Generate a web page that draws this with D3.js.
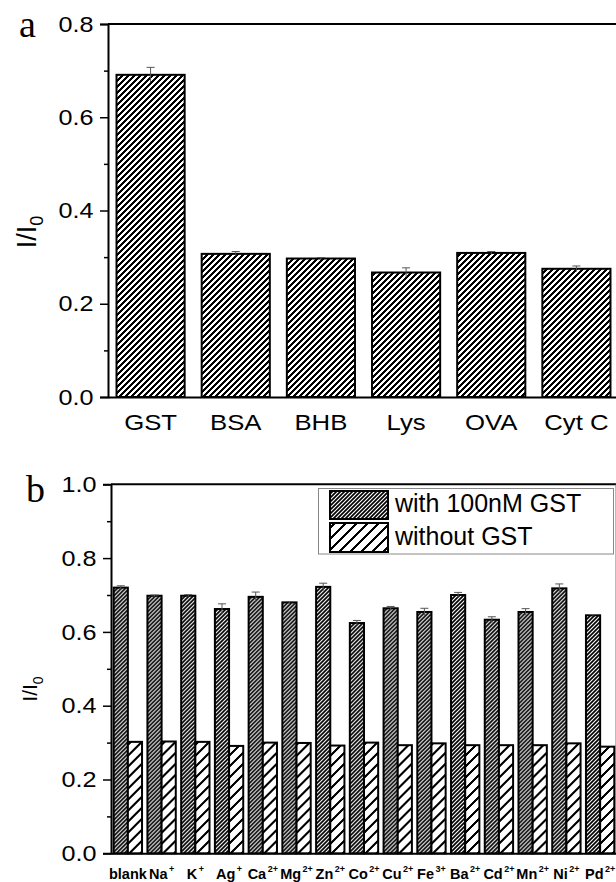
<!DOCTYPE html>
<html>
<head>
<meta charset="utf-8">
<script src="https://cdn.jsdelivr.net/npm/d3@7"></script>
<style>
  body { margin: 0; background: #fff; }
  svg { display: block; overflow: hidden; }
  text { font-family: "Liberation Sans", Arial, sans-serif; fill: #000; }
</style>
</head>
<body>
<div id="chart"></div>
<script>
// panel a: proteins
const proteins = ["GST", "BSA", "BHB", "Lys", "OVA", "Cyt C"];
const proteinVals = [0.691, 0.307, 0.297, 0.267, 0.309, 0.275];
const proteinErr = [0.016, 0.005, 0.002, 0.010, 0.003, 0.006];
const ticksA = [0, 0.2, 0.4, 0.6, 0.8];
const minorA = [0.1, 0.3, 0.5, 0.7];

// panel b: metal ions
const ions = ["blank", "Na", "K", "Ag", "Ca", "Mg", "Zn", "Co", "Cu", "Fe", "Ba", "Cd", "Mn", "Ni", "Pd"];
const charges = ["", "+", "+", "+", "2+", "2+", "2+", "2+", "2+", "3+", "2+", "2+", "2+", "2+", "2+"];
const withGST = [0.720, 0.698, 0.698, 0.662, 0.695, 0.680, 0.722, 0.624, 0.664, 0.654, 0.700, 0.633, 0.654, 0.718, 0.645];
const withErr = [0.005, 0.002, 0.003, 0.014, 0.013, 0.002, 0.010, 0.007, 0.005, 0.010, 0.007, 0.008, 0.009, 0.012, 0.002];
const withoutGST = [0.302, 0.303, 0.302, 0.291, 0.300, 0.299, 0.292, 0.300, 0.293, 0.298, 0.293, 0.293, 0.293, 0.298, 0.289];
const ticksB = [0, 0.2, 0.4, 0.6, 0.8, 1.0];
const minorB = [0.1, 0.3, 0.5, 0.7, 0.9];
const seriesNames = ["with 100nM GST", "without GST"];

const W = 616, H = 882;
const svg = d3.select("#chart").append("svg").attr("width", W).attr("height", H);
const defs = svg.append("defs");

// diagonal hatch patterns
function hatch(id, s, sw, crisp) {
  const p = defs.append("pattern").attr("id", id)
    .attr("patternUnits", "userSpaceOnUse").attr("width", s).attr("height", s);
  p.append("rect").attr("width", s).attr("height", s).attr("fill", "#fff");
  p.append("path")
    .attr("d", `M-1,1 l2,-2 M0,${s} l${s},${-s} M${s - 1},${s + 1} l2,-2`)
    .attr("stroke", "#000").attr("stroke-width", sw)
    .attr("shape-rendering", crisp ? "crispEdges" : "auto");
}
hatch("hA", 6, 1.6, true);
hatch("hDark", 4, 1.7, false);
hatch("hLight", 11, 1.6, true);

const stretch = "scale(1.12,1)";

function styleAxis(g) {
  g.select(".domain").attr("stroke", "#000").attr("stroke-width", 2);
  g.selectAll(".tick line").attr("stroke", "#000").attr("stroke-width", 1.5);
}

// ---------- panel a ----------
const xA = d3.scaleBand().domain(proteins).range([108, 619]).paddingInner(0.2).paddingOuter(0.1);
const yA = d3.scaleLinear().domain([0, 0.8]).range([397, 24]);

svg.append("line").attr("x1", 108).attr("x2", 619).attr("y1", yA(0.8)).attr("y2", yA(0.8))
  .attr("stroke", "#000").attr("stroke-width", 2);

svg.append("g").attr("transform", "translate(108,0)")
  .call(d3.axisLeft(yA).tickValues(minorA).tickSize(4).tickFormat(""))
  .call(g => g.select(".domain").remove())
  .call(styleAxis);

const yAxA = svg.append("g").attr("transform", "translate(108,0)")
  .call(d3.axisLeft(yA).tickValues(ticksA).tickSize(8).tickPadding(5).tickFormat(d3.format(".1f")))
  .call(styleAxis);
yAxA.selectAll(".tick text").attr("font-size", 22.5).attr("transform", stretch)
  .style("font-family", "'Liberation Sans', Arial, sans-serif");

const xAxA = svg.append("g").attr("transform", "translate(0,397)")
  .call(d3.axisBottom(xA).tickSize(0).tickPadding(17))
  .call(styleAxis);
xAxA.selectAll(".tick text").attr("font-size", 23).attr("transform", stretch)
  .style("font-family", "'Liberation Sans', Arial, sans-serif");

svg.append("g").selectAll("rect").data(proteins).join("rect")
  .attr("x", d => xA(d)).attr("width", xA.bandwidth())
  .attr("y", (d, i) => yA(proteinVals[i]))
  .attr("height", (d, i) => yA(0) - yA(proteinVals[i]))
  .attr("fill", "url(#hA)").attr("stroke", "#000").attr("stroke-width", 2);

const errA = svg.append("g").attr("stroke", "#555").attr("stroke-width", 1);
proteins.forEach((d, i) => {
  const cx = xA(d) + xA.bandwidth() / 2;
  const y1 = yA(proteinVals[i] + proteinErr[i]), y2 = yA(proteinVals[i] - proteinErr[i]);
  errA.append("line").attr("x1", cx).attr("x2", cx).attr("y1", y1).attr("y2", y2);
  errA.append("line").attr("x1", cx - 4).attr("x2", cx + 4).attr("y1", y1).attr("y2", y1);
});

svg.append("text").attr("transform", "translate(36,232) rotate(-90)")
  .attr("text-anchor", "middle").attr("font-size", 27)
  .text("I/I").append("tspan").attr("font-size", 18).attr("dy", 7).text("0");

svg.append("text").attr("x", 19).attr("y", 37).attr("font-size", 38)
  .style("font-family", "'Liberation Serif', 'Times New Roman', serif").text("a");

// ---------- panel b ----------
const xB = d3.scaleBand().domain(ions).range([111, 617]).paddingInner(0.16).paddingOuter(0.08);
const xSub = d3.scaleBand().domain([0, 1]).range([0, xB.bandwidth()]);
const yB = d3.scaleLinear().domain([0, 1]).range([853.3, 484.3]);

svg.append("line").attr("x1", 111).attr("x2", 617).attr("y1", yB(1)).attr("y2", yB(1))
  .attr("stroke", "#000").attr("stroke-width", 2);
svg.append("line").attr("x1", 616).attr("x2", 616).attr("y1", yB(1)).attr("y2", yB(0))
  .attr("stroke", "#777").attr("stroke-width", 1);

svg.append("g").attr("transform", "translate(111,0)")
  .call(d3.axisLeft(yB).tickValues(minorB).tickSize(4).tickFormat(""))
  .call(g => g.select(".domain").remove())
  .call(styleAxis);

const yAxB = svg.append("g").attr("transform", "translate(111,0)")
  .call(d3.axisLeft(yB).tickValues(ticksB).tickSize(8).tickPadding(5).tickFormat(d3.format(".1f")))
  .call(styleAxis);
yAxB.selectAll(".tick text").attr("font-size", 22.5).attr("transform", stretch)
  .style("font-family", "'Liberation Sans', Arial, sans-serif");

const xAxB = svg.append("g").attr("transform", "translate(0,853.3)")
  .call(d3.axisBottom(xB).tickSize(0).tickPadding(15))
  .call(styleAxis);
xAxB.selectAll(".tick text").attr("font-size", 14.5).attr("font-weight", "bold")
  .style("font-family", "'Liberation Sans', Arial, sans-serif")
  .each(function(d, i) {
    if (charges[i]) {
      d3.select(this).append("tspan").attr("font-size", 9).attr("dx", 1.5).attr("dy", -7).text(charges[i]);
    }
  });

const groups = svg.append("g").selectAll("g").data(ions).join("g")
  .attr("transform", d => `translate(${xB(d)},0)`);
groups.append("rect")
  .attr("x", xSub(0)).attr("width", xSub.bandwidth())
  .attr("y", (d, i) => yB(withGST[i]))
  .attr("height", (d, i) => yB(0) - yB(withGST[i]))
  .attr("fill", "url(#hDark)").attr("stroke", "#000").attr("stroke-width", 2);
groups.append("rect")
  .attr("x", xSub(1)).attr("width", xSub.bandwidth())
  .attr("y", (d, i) => yB(withoutGST[i]))
  .attr("height", (d, i) => yB(0) - yB(withoutGST[i]))
  .attr("fill", "url(#hLight)").attr("stroke", "#000").attr("stroke-width", 2);

const errB = svg.append("g").attr("stroke", "#555").attr("stroke-width", 1);
ions.forEach((d, i) => {
  const cx = xB(d) + xSub(0) + xSub.bandwidth() / 2;
  const y1 = yB(withGST[i] + withErr[i]), y2 = yB(withGST[i] - withErr[i]);
  errB.append("line").attr("x1", cx).attr("x2", cx).attr("y1", y1).attr("y2", y2);
  errB.append("line").attr("x1", cx - 4).attr("x2", cx + 4).attr("y1", y1).attr("y2", y1);
});

// legend
const leg = svg.append("g");
leg.append("rect").attr("x", 318.5).attr("y", 488.5).attr("width", 295).attr("height", 65.5)
  .attr("fill", "#fff").attr("stroke", "#888").attr("stroke-width", 1);
[["url(#hDark)", 491, 28, 512], ["url(#hLight)", 523, 29, 545]].forEach((r, i) => {
  leg.append("rect").attr("x", 330).attr("y", r[1]).attr("width", 58).attr("height", r[2])
    .attr("fill", r[0]).attr("stroke", "#000").attr("stroke-width", 2);
  leg.append("text").attr("x", 395).attr("y", r[3]).attr("font-size", 25).text(seriesNames[i]);
});

svg.append("text").attr("transform", "translate(37,689) rotate(-90)")
  .attr("text-anchor", "middle").attr("font-size", 21)
  .text("I/I").append("tspan").attr("font-size", 14).attr("dy", 6).text("0");

svg.append("text").attr("x", 26).attr("y", 502).attr("font-size", 38)
  .style("font-family", "'Liberation Serif', 'Times New Roman', serif").text("b");
</script>
</body>
</html>
